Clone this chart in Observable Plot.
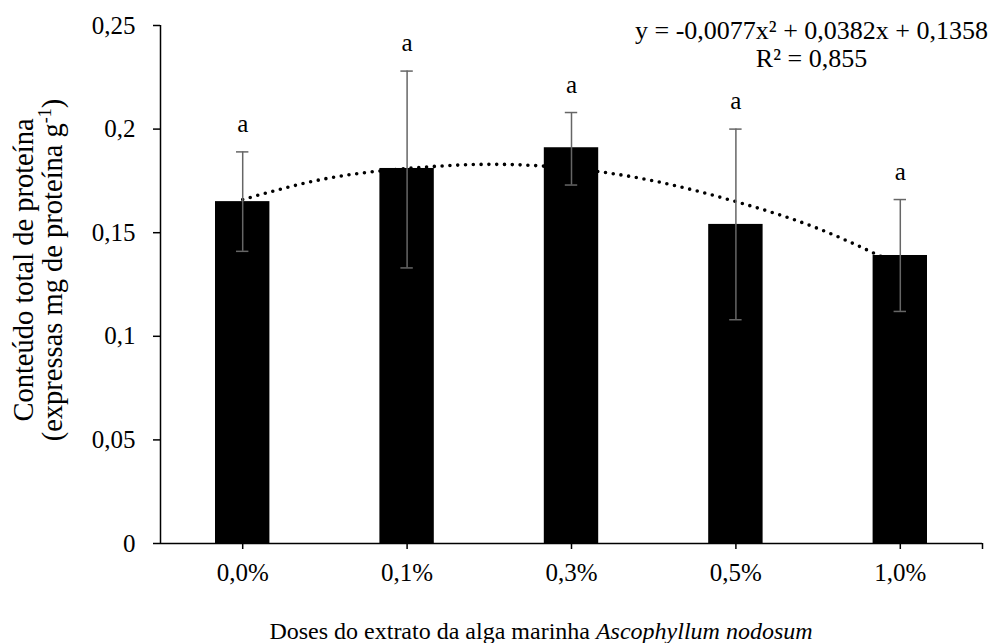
<!DOCTYPE html>
<html><head><meta charset="utf-8">
<script src="https://cdn.jsdelivr.net/npm/d3@7"></script>
<script src="https://cdn.jsdelivr.net/npm/@observablehq/plot@0.6"></script>
<style>
body{margin:0;background:#fff;}
#chart svg, #chart svg text { font-family: "Liberation Serif", "Times New Roman", serif !important; }
</style>
</head><body><div id="chart"></div>
<script>
const categories = ["0,0%", "0,1%", "0,3%", "0,5%", "1,0%"];
const means = [0.165, 0.181, 0.191, 0.154, 0.139];
const errLow = [0.141, 0.133, 0.173, 0.108, 0.112];
const errHigh = [0.189, 0.228, 0.208, 0.200, 0.166];
const letters = ["a", "a", "a", "a", "a"];
const trendX = [1, 1.5, 2, 2.5, 3, 3.5, 4, 4.5, 5];
const trendY = [0.166, 0.176, 0.181, 0.183, 0.181, 0.175, 0.165, 0.152, 0.134];
const yTicks = [0, 0.05, 0.1, 0.15, 0.2, 0.25];
const xTicks = [1, 2, 3, 4, 5, 5.5];
const equation = "y = -0,0077x² + 0,0382x + 0,1358\nR² = 0,855";
const yTitle1 = "Conteúdo total de proteína";
const yTitle2 = "(expressas mg de proteína g";
const yTitle2Sup = "-1";
const xTitle = "Doses do extrato da alga marinha ";
const xTitleItalic = "Ascophyllum nodosum";

const data = categories.map((c, i) => ({x: i + 1, cat: c, mean: means[i], lo: errLow[i], hi: errHigh[i], letter: letters[i]}));
const trend = trendX.map((x, i) => ({x, y: trendY[i]}));
const fmt = v => String(v).replace(".", ",");
const FONT = "Liberation Serif";
const ERR = "#666666";

const chart = Plot.plot({
  width: 997, height: 643,
  marginTop: 25, marginBottom: 100, marginLeft: 160, marginRight: 15,
  style: {fontFamily: FONT, fontSize: "25px", color: "black", background: "white"},
  x: {type: "linear", domain: [0.5, 5.5]},
  y: {domain: [0, 0.25]},
  marks: [
    Plot.rect(data, {x1: d => d.x - 0.5, x2: d => d.x + 0.5, y1: 0, y2: "mean", insetLeft: 55, insetRight: 55, fill: "black"}),
    Plot.line(trend, {x: "x", y: "y", curve: "natural", stroke: "black", strokeWidth: 3.6, strokeDasharray: "0,7.8", strokeLinecap: "round"}),
    Plot.ruleX(data, {x: "x", y1: "lo", y2: "hi", stroke: ERR, strokeWidth: 1.5}),
    Plot.ruleY(data, {y: "hi", x1: d => d.x - 0.5, x2: d => d.x + 0.5, insetLeft: 76, insetRight: 76, stroke: ERR, strokeWidth: 1.5}),
    Plot.ruleY(data, {y: "lo", x1: d => d.x - 0.5, x2: d => d.x + 0.5, insetLeft: 76, insetRight: 76, stroke: ERR, strokeWidth: 1.5}),
    Plot.text(data, {x: "x", y: "hi", text: "letter", dy: -20, lineAnchor: "bottom", fontSize: 25, fontFamily: FONT, fill: "black"}),
    Plot.ruleY([0], {stroke: "black", strokeWidth: 1.5}),
    Plot.ruleX([0.5], {y1: 0, y2: 0.25, stroke: "black", strokeWidth: 1.5}),
    Plot.axisY({ticks: yTicks, tickFormat: fmt, tickSize: 7, tickPadding: 18, fontSize: 25, fontFamily: FONT, label: null, strokeWidth: 1.5}),
    Plot.axisX({ticks: xTicks, tickFormat: v => Number.isInteger(v) ? categories[v - 1] : "", tickSize: 6, tickPadding: 14, fontSize: 25, fontFamily: FONT, label: null, strokeWidth: 1.5}),
    Plot.text([equation], {frameAnchor: "top-right", dx: -171, dy: -7, textAnchor: "middle", lineAnchor: "top", lineHeight: 1.1, fontSize: 26, fontFamily: FONT, fill: "black"})
  ]
});

const svg = d3.select(chart);
// y axis title (two lines, rotated)
const yt = svg.append("text")
  .attr("transform", "translate(0,270) rotate(-90)")
  .attr("text-anchor", "middle")
  .attr("font-family", FONT).attr("font-size", 28.5).attr("fill", "black");
yt.append("tspan").attr("x", 0).attr("y", 33).text(yTitle1);
const l2 = yt.append("tspan").attr("x", 0).attr("y", 62);
l2.append("tspan").text(yTitle2);
l2.append("tspan").attr("dy", -11).attr("font-size", 18).text(yTitle2Sup);
l2.append("tspan").attr("dy", 11).text(")");
// x axis title with italic species name
const xt = svg.append("text")
  .attr("x", 541).attr("y", 639)
  .attr("text-anchor", "middle")
  .attr("font-family", FONT).attr("font-size", 24).attr("fill", "black");
xt.append("tspan").text(xTitle);
xt.append("tspan").attr("font-style", "italic").text(xTitleItalic);

document.getElementById("chart").appendChild(chart);
</script>
</body></html>
